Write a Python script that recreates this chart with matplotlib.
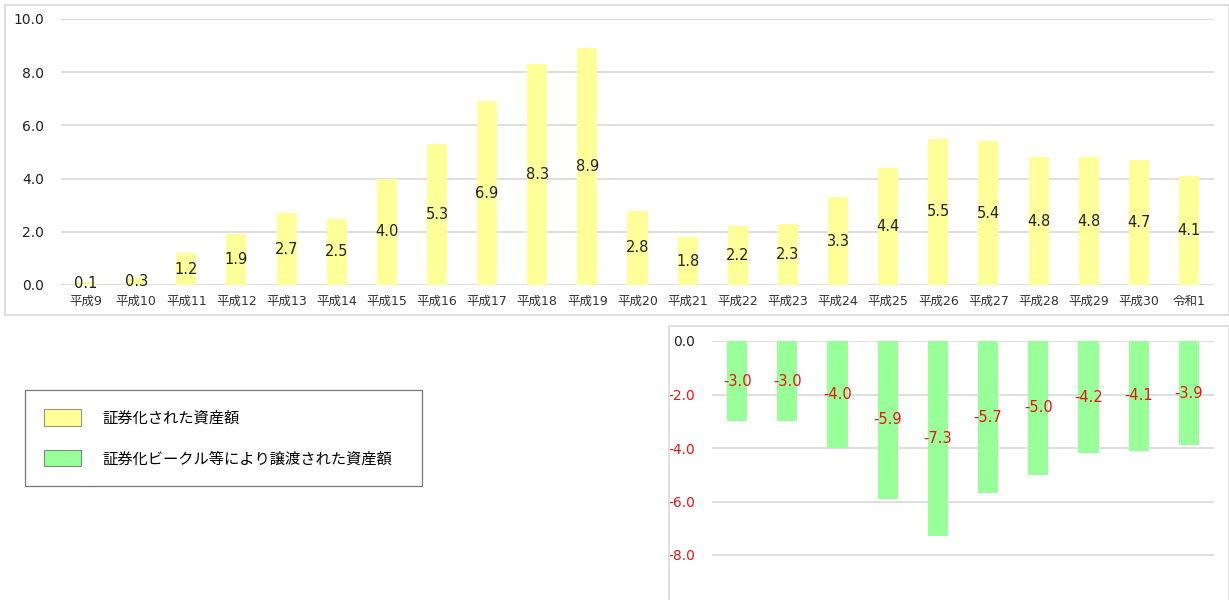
import matplotlib.pyplot as plt
from matplotlib.patches import Patch, Rectangle

plt.rcParams['font.family'] = ['DejaVu Sans', 'Noto Sans CJK JP']

# 年度
years = ["平成9", "平成10", "平成11", "平成12", "平成13", "平成14", "平成15", "平成16",
         "平成17", "平成18", "平成19", "平成20", "平成21", "平成22", "平成23", "平成24",
         "平成25", "平成26", "平成27", "平成28", "平成29", "平成30", "令和1"]
# 証券化された資産額
securitized = [0.1, 0.3, 1.2, 1.9, 2.7, 2.5, 4.0, 5.3, 6.9, 8.3, 8.9, 2.8,
               1.8, 2.2, 2.3, 3.3, 4.4, 5.5, 5.4, 4.8, 4.8, 4.7, 4.1]
# 証券化ビークル等により譲渡された資産額 (平成22 - 令和1)
transferred_years = years[13:]
transferred = [-3.0, -3.0, -4.0, -5.9, -7.3, -5.7, -5.0, -4.2, -4.1, -3.9]

yellow = "#ffff99"
green = "#99ff99"
grid_c = "#d9d9d9"
red = "#ee1111"
W, H = 1229, 600

fig = plt.figure(figsize=(W / 100, H / 100), dpi=100)

# panel borders
fig.patches.append(Rectangle((5 / W, 1 - 315 / H), 1 - 5 / W, 310 / H,
                             transform=fig.transFigure, fill=False,
                             edgecolor=grid_c, lw=1.2))
fig.patches.append(Rectangle((669 / W, -0.01), 1 - 669 / W, 1 - 326 / H + 0.01,
                             transform=fig.transFigure, fill=False,
                             edgecolor=grid_c, lw=1.2))

# top chart
ax1 = fig.add_axes([61 / W, 1 - 285 / H, 1153 / W, 266 / H])
x1 = range(len(years))
ax1.bar(x1, securitized, width=0.4, color=yellow, zorder=2)
for i, v in enumerate(securitized):
    ax1.text(i, v / 2, f"{v:.1f}", ha="center", va="center",
             fontsize=10.5, color="#222222", zorder=3)
ax1.set_xlim(-0.5, len(years) - 0.5)
ax1.set_ylim(0, 10)
ax1.set_yticks([0, 2, 4, 6, 8, 10])
ax1.set_yticklabels([f"{t:.1f}" for t in [0, 2, 4, 6, 8, 10]], fontsize=10,
                    color="#222222")
ax1.set_xticks(list(x1))
ax1.set_xticklabels(years, fontsize=9, color="#333333")
ax1.tick_params(length=0, pad=7)
ax1.tick_params(axis="y", pad=12)
ax1.grid(axis="y", color=grid_c, lw=1.2, zorder=0)
for s in ax1.spines.values():
    s.set_visible(False)

# bottom chart
ax2 = fig.add_axes([712 / W, 0, 502 / W, 1 - 341 / H])
x2 = range(len(transferred_years))
ax2.bar(x2, transferred, width=0.4, color=green, zorder=2)
for i, v in enumerate(transferred):
    ax2.text(i, v / 2, f"{v:.1f}", ha="center", va="center",
             fontsize=10.5, color=red, zorder=3)
ax2.set_xlim(-0.5, len(transferred_years) - 0.5)
ax2.set_ylim(-259 / 26.75, 0)
ticks2 = [0, -2, -4, -6, -8]
ax2.set_yticks(ticks2)
ax2.set_yticklabels([f"{t:.1f}" for t in ticks2], fontsize=10)
for lbl, t in zip(ax2.get_yticklabels(), ticks2):
    lbl.set_color("#222222" if t == 0 else red)
ax2.set_xticks([])
ax2.tick_params(length=0, pad=12)
ax2.grid(axis="y", color=grid_c, lw=1.2, zorder=0)
for s in ax2.spines.values():
    s.set_visible(False)

# legend
handles = [Patch(facecolor=yellow, edgecolor="#9a9a70", lw=0.8),
           Patch(facecolor=green, edgecolor="#70907a", lw=0.8)]
labels = ["証券化された資産額", "証券化ビークル等により譲渡された資産額"]
leg = fig.legend(handles, labels, loc="upper left",
                 bbox_to_anchor=(25 / W, 1 - 391 / H, 397 / W, 0.001),
                 mode="expand", fontsize=11, frameon=True, fancybox=False,
                 handlelength=2.4, handleheight=1.3, handletextpad=1.4,
                 borderpad=1.25, labelspacing=1.55, borderaxespad=0)
leg.get_frame().set_edgecolor("#555555")
leg.get_frame().set_linewidth(0.9)

fig.savefig("out.png", dpi=100)
